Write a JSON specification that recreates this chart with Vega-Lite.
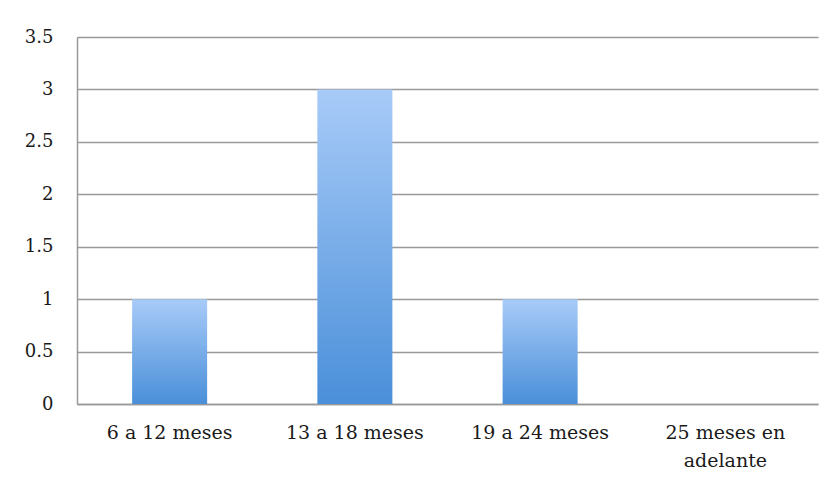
{
  "$schema": "https://vega.github.io/schema/vega-lite/v6.json",
  "autosize": {"type": "none"},
  "width": 741,
  "height": 367,
  "padding": {"left": 77, "top": 37, "right": 18, "bottom": 79},
  "background": "white",
  "data": {"values": [
    {"categoria": "6 a 12 meses", "valor": 1},
    {"categoria": "13 a 18 meses", "valor": 3},
    {"categoria": "19 a 24 meses", "valor": 1},
    {"categoria": "25 meses en adelante", "valor": 0}
  ]},
  "mark": {
    "type": "bar",
    "color": {
      "gradient": "linear", "x1": 0, "y1": 0, "x2": 0, "y2": 1,
      "stops": [{"offset": 0, "color": "#a8cbf8"}, {"offset": 1, "color": "#4a8fd9"}]
    }
  },
  "encoding": {
    "x": {
      "field": "categoria", "type": "nominal", "sort": null,
      "scale": {"paddingInner": 0.595, "paddingOuter": 0.2975},
      "axis": {
        "title": null, "labelAngle": 0, "ticks": false,
        "labelPadding": 19, "labelFontSize": 19, "labelFont": "DejaVu Serif",
        "labelColor": "#1a1a1a", "labelLineHeight": 28, "labelLimit": 0,
        "labelExpr": "datum.label == '25 meses en adelante' ? ['25 meses en', 'adelante'] : datum.label",
        "domainColor": "#999999", "domainWidth": 1.5
      }
    },
    "y": {
      "field": "valor", "type": "quantitative",
      "scale": {"domain": [0, 3.5], "nice": false},
      "axis": {
        "title": null, "values": [0, 0.5, 1, 1.5, 2, 2.5, 3, 3.5],
        "ticks": false, "labelPadding": 24, "labelFontSize": 18,
        "labelFont": "DejaVu Serif", "labelColor": "#1a1a1a",
        "gridColor": "#999999", "gridWidth": 1.5,
        "domainColor": "#999999", "domainWidth": 1.5,
        "labelExpr": "datum.value"
      }
    }
  },
  "config": {"view": {"stroke": null}}
}
